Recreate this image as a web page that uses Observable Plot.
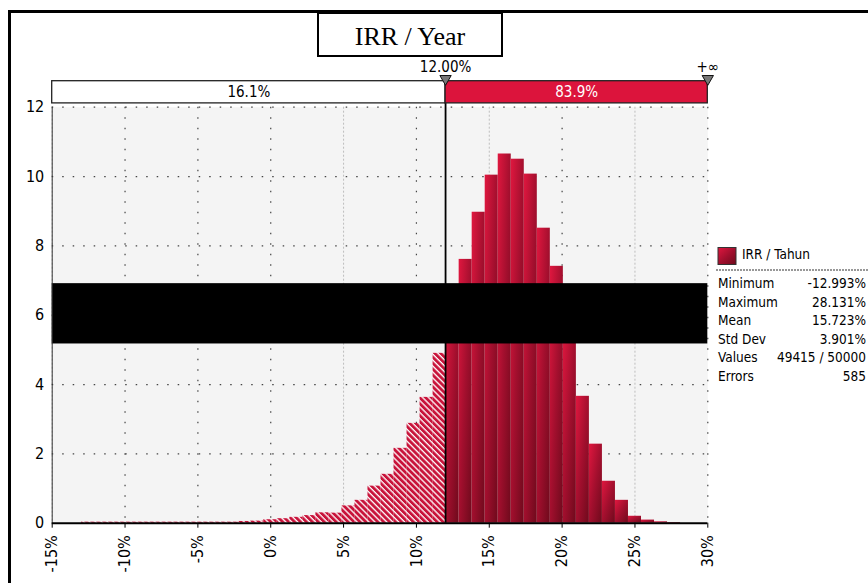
<!DOCTYPE html>
<html><head><meta charset="utf-8">
<script src="https://cdn.jsdelivr.net/npm/d3@7"></script>
<script src="https://cdn.jsdelivr.net/npm/@observablehq/plot@0.6"></script>
<style>
html,body{margin:0;padding:0;background:#fff;}
#chart{position:relative;width:868px;height:583px;overflow:hidden;}
</style></head><body><div id="chart"></div>
<script>
// ---- data ----
const chartTitle = "IRR / Year";
const seriesName = "IRR / Tahun";
const binMin = -12.993;
const binMax = 28.131;
const binCount = 46;
const binHeights = [0.03,0.03,0.03,0.03,0.03,0.03,0.03,0.03,0.03,0.03,0.03,0.03,0.05,
  0.06,0.1,0.13,0.17,0.22,0.3,0.29,0.5,0.66,1.07,1.41,2.16,2.88,3.63,4.9,
  6.2,7.61,8.97,10.04,10.65,10.5,10.07,8.51,7.41,5.6,3.66,2.28,1.21,0.66,0.2,0.09,0.04,0.02];
const threshold = 12.0;
const splitMarks = [12.0, 30];
const splitMarkLabels = ["12.00%", "+\u221e"];
const splitShares = ["16.1%", "83.9%"];
const xTicks = [-15,-10,-5,0,5,10,15,20,25,30];
const yTicks = [0,2,4,6,8,10,12];
const statLabels = ["Minimum","Maximum","Mean","Std Dev","Values","Errors"];
const statValues = ["-12.993%","28.131%","15.723%","3.901%","49415 / 50000","585"];
const redacted = [{y1: 5.17, y2: 6.91}];

// ---- derived tables ----
const binW = (binMax - binMin) / binCount;
const bins = binHeights.map((h, i) => ({x1: binMin + i*binW, x2: binMin + (i+1)*binW, h}));
const hatchedBins = bins.filter(d => d.x1 < threshold);
const solidBins = bins.filter(d => d.x1 >= threshold);
const segs = [
  {x1: -15, x2: splitMarks[0], fill: "#ffffff", text: "#000", label: splitShares[0]},
  {x1: splitMarks[0], x2: splitMarks[1], fill: "#dc143c", text: "#fff", label: splitShares[1]}
];
const markers = splitMarks.map((x, i) => ({x, label: splitMarkLabels[i]}));
const darkGrid = xTicks.filter(t => t % 10 === 0 || t === -5);
const lightGrid = xTicks.filter(t => !(t % 10 === 0 || t === -5));

const FONT = "'DejaVu Sans Condensed', 'DejaVu Sans', sans-serif";
const bandY1 = 12.11, bandY2 = 12.75;

const chart = Plot.plot({
  width: 868, height: 583,
  marginLeft: 51.7, marginRight: 160.7, marginTop: 106.7, marginBottom: 60.3,
  x: {domain: [-15, 30]},
  y: {domain: [0, 12]},
  style: {fontFamily: FONT, fontSize: "15px", background: "white", color: "#000"},
  marks: [
    Plot.frame({fill: "#f4f4f4", stroke: null}),
    Plot.ruleX(lightGrid, {stroke: "#bdbdbd", strokeDasharray: "2,2", strokeWidth: 1}),
    Plot.ruleX(darkGrid, {stroke: "#444", strokeDasharray: "1.5,9", strokeWidth: 1.2}),
    Plot.ruleY(yTicks.filter(t => t > 0), {stroke: "#444", strokeDasharray: "1.5,9", strokeWidth: 1.2}),
    Plot.rectY(hatchedBins, {x1: "x1", x2: "x2", y: "h", fill: "url(#hatch)", insetLeft: 0, insetRight: 0}),
    Plot.rectY(solidBins, {x1: "x1", x2: "x2", y: "h", fill: "url(#barGrad)", insetLeft: 0, insetRight: 0}),
    Plot.rect(redacted, {x1: -15, x2: 30, y1: "y1", y2: "y2", fill: "#000"}),
    Plot.ruleX([-15], {stroke: "#333", strokeWidth: 1}),
    Plot.ruleY([0], {stroke: "#000", strokeWidth: 2}),
    Plot.ruleX([threshold], {y1: 0, y2: bandY2, stroke: "#000", strokeWidth: 1.8}),
    Plot.rect(segs, {x1: "x1", x2: "x2", y1: bandY1, y2: bandY2, fill: "fill", stroke: "#222", strokeWidth: 1.3}),
    Plot.text(segs, {x: d => (d.x1 + d.x2) / 2, y: (bandY1 + bandY2) / 2, text: "label", fill: "text", fontSize: 15}),
    Plot.text(markers, {x: "x", y: 13.15, text: "label", fontSize: 15}),
    Plot.dot(markers, {x: "x", y: 12.82, symbol: "triangle", r: 4.2, rotate: 180, fill: "#777", stroke: "#111", strokeWidth: 1}),
    Plot.axisX({ticks: xTicks, tickFormat: d => d + "%", tickRotate: -90, tickSize: 5, tickPadding: 7, fontSize: 16, label: null, stroke: "#000"}),
    Plot.axisY({ticks: yTicks, tickSize: 0, tickPadding: 8, fontSize: 16, label: null})
  ]
});
document.getElementById("chart").appendChild(chart);

// ---- decorations: gradients, hatch, frame, title, legend ----
const svg = d3.select(chart);
const defs = svg.insert("defs", ":first-child");
const g = defs.append("linearGradient").attr("id", "barGrad")
  .attr("x1", 0).attr("y1", 0).attr("x2", 1).attr("y2", 1);
g.append("stop").attr("offset", 0).attr("stop-color", "#e0173f");
g.append("stop").attr("offset", 0.5).attr("stop-color", "#a30f2e");
g.append("stop").attr("offset", 1).attr("stop-color", "#6e0a1c");
const p = defs.append("pattern").attr("id", "hatch").attr("patternUnits", "userSpaceOnUse")
  .attr("width", 4.2).attr("height", 4.2).attr("patternTransform", "rotate(-45)");
p.append("rect").attr("width", 4.2).attr("height", 4.2).attr("fill", "#c8133a");
p.append("line").attr("x1", 1).attr("y1", 0).attr("x2", 1).attr("y2", 4.2)
  .attr("stroke", "#fff").attr("stroke-width", 1.3);

const deco = svg.append("g");
deco.append("line").attr("x1", 8).attr("x2", 868).attr("y1", 11.5).attr("y2", 11.5)
  .attr("stroke", "#000").attr("stroke-width", 3);
deco.append("line").attr("x1", 9.5).attr("x2", 9.5).attr("y1", 10).attr("y2", 583)
  .attr("stroke", "#000").attr("stroke-width", 3);
deco.append("rect").attr("x", 318).attr("y", 13).attr("width", 184).attr("height", 43)
  .attr("fill", "#fff").attr("stroke", "#000").attr("stroke-width", 2);
deco.append("text").attr("x", 410).attr("y", 45).attr("text-anchor", "middle")
  .attr("font-family", "'Liberation Serif', 'DejaVu Serif', serif").attr("font-size", 26)
  .attr("fill", "#000").text(chartTitle);

const leg = svg.append("g").attr("font-family", FONT).attr("font-size", 13.5)
  .attr("fill", "#000").attr("text-anchor", "start");
leg.append("rect").attr("x", 718).attr("y", 247.5).attr("width", 18).attr("height", 17)
  .attr("fill", "url(#barGrad)").attr("stroke", "#333").attr("stroke-width", 1);
leg.append("text").attr("x", 742).attr("y", 259).attr("text-anchor", "start").text(seriesName);
leg.append("line").attr("x1", 716).attr("x2", 868).attr("y1", 270).attr("y2", 270)
  .attr("stroke", "#333").attr("stroke-width", 1.2).attr("stroke-dasharray", "2,1");
statLabels.forEach((s, i) => {
  const y = 288.3 + i * 18.45;
  leg.append("text").attr("x", 718).attr("y", y).attr("text-anchor", "start").text(s);
  leg.append("text").attr("x", 866).attr("y", y).attr("text-anchor", "end").text(statValues[i]);
});
</script></body></html>
